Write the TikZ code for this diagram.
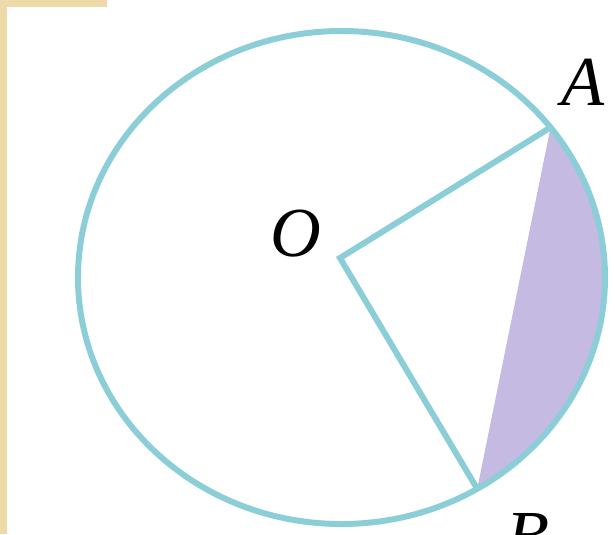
\documentclass[tikz,border=0pt]{standalone}
\usepackage{fontspec}
\setmainfont{Liberation Serif}
\usetikzlibrary{calc}
\definecolor{linea}{RGB}{140,206,216}
\definecolor{lila}{RGB}{196,186,226}
\definecolor{marco}{RGB}{238,218,168}
\begin{document}
\begin{tikzpicture}[x=0.2mm, y=0.2mm, line width=3.4pt]
\useasboundingbox (0,0) rectangle (615,534);

% Marco
	\fill[marco] (0,0) rectangle (7,534);
	\fill[marco] (0,527) rectangle (107,534);

% Puntos
\coordinate (C) at (341.5,256.5);
\coordinate (O) at (340,276);
\coordinate (A) at ($(C)+(37.5:263.5 and 246.5)$);
\coordinate (B) at ($(C)+(-59:263.5 and 246.5)$);

% Segmento circular
	\fill[lila] (A) arc[start angle=37.5, end angle=-59, x radius=263.5, y radius=246.5] -- cycle;

% Circunferencia y radios
	\draw[linea] (C) ellipse [x radius=263.5, y radius=246.5];
	\draw[linea] (A) -- (O) -- (B);

\node[font=\fontsize{40}{48}\selectfont\itshape] (nA) at (583,452) {A};
\node[font=\fontsize{40}{48}\selectfont\itshape] (nO) at (296,300) {O};
\node[font=\fontsize{40}{48}\selectfont\itshape] (nB) at (528,-2.5) {B};
\end{tikzpicture}
\end{document}
